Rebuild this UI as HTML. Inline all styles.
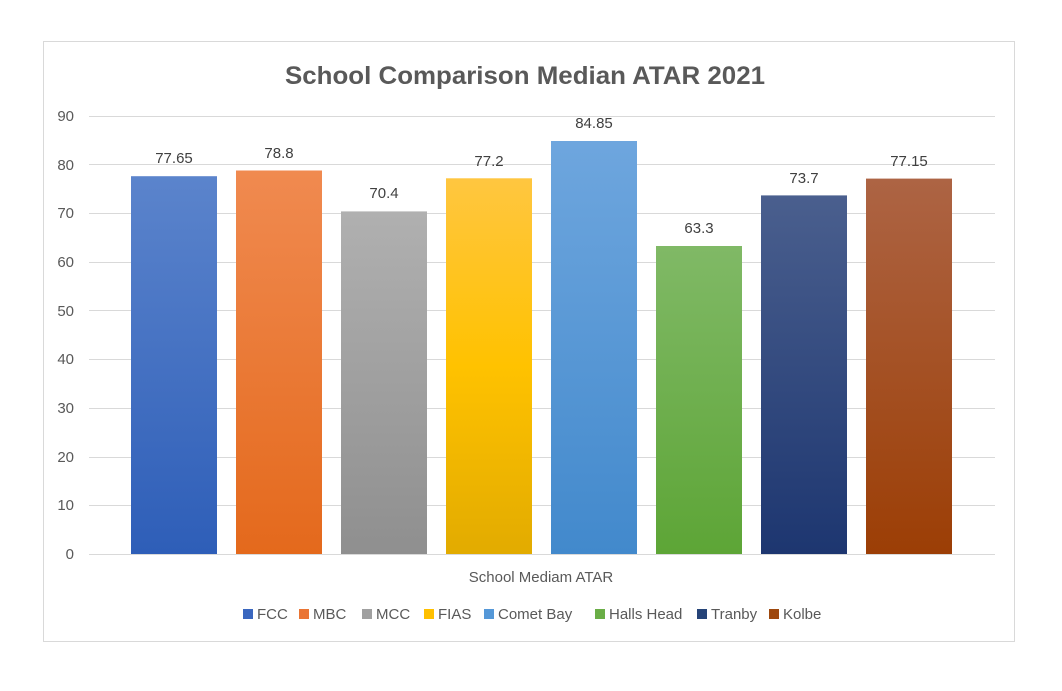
<!DOCTYPE html>
<html><head><meta charset="utf-8"><style>body{margin:0;background:#fff}svg{display:block}text{font-family:"Liberation Sans",sans-serif}</style></head><body>
<svg width="1062" height="691" viewBox="0 0 1062 691" xmlns="http://www.w3.org/2000/svg">
<defs>
<linearGradient id="g0" x1="0" y1="0" x2="0" y2="1"><stop offset="0" stop-color="#5b84cc"/><stop offset="1" stop-color="#2e5eb8"/></linearGradient>
<linearGradient id="g1" x1="0" y1="0" x2="0" y2="1"><stop offset="0" stop-color="#f08a50"/><stop offset="1" stop-color="#e4691c"/></linearGradient>
<linearGradient id="g2" x1="0" y1="0" x2="0" y2="1"><stop offset="0" stop-color="#b0b0b0"/><stop offset="1" stop-color="#8f8f8f"/></linearGradient>
<linearGradient id="g3" x1="0" y1="0" x2="0" y2="1"><stop offset="0" stop-color="#ffc640"/><stop offset="0.5" stop-color="#ffc200"/><stop offset="1" stop-color="#e2ab00"/></linearGradient>
<linearGradient id="g4" x1="0" y1="0" x2="0" y2="1"><stop offset="0" stop-color="#6ea6de"/><stop offset="1" stop-color="#4289cc"/></linearGradient>
<linearGradient id="g5" x1="0" y1="0" x2="0" y2="1"><stop offset="0" stop-color="#80b966"/><stop offset="1" stop-color="#5da536"/></linearGradient>
<linearGradient id="g6" x1="0" y1="0" x2="0" y2="1"><stop offset="0" stop-color="#4a5f8e"/><stop offset="1" stop-color="#1d3670"/></linearGradient>
<linearGradient id="g7" x1="0" y1="0" x2="0" y2="1"><stop offset="0" stop-color="#ad6444"/><stop offset="1" stop-color="#9c3e05"/></linearGradient>
</defs>
<rect x="43.5" y="41.5" width="971" height="600" fill="#fff" stroke="#d9d9d9"/>
<text x="285" y="84" textLength="480" lengthAdjust="spacingAndGlyphs" font-size="25" font-weight="bold" fill="#595959">School Comparison Median ATAR 2021</text>
<g stroke="#d9d9d9" stroke-width="1">
<line x1="89" x2="995" y1="116.5" y2="116.5"/><line x1="89" x2="995" y1="164.5" y2="164.5"/><line x1="89" x2="995" y1="213.5" y2="213.5"/><line x1="89" x2="995" y1="262.5" y2="262.5"/><line x1="89" x2="995" y1="310.5" y2="310.5"/><line x1="89" x2="995" y1="359.5" y2="359.5"/><line x1="89" x2="995" y1="408.5" y2="408.5"/><line x1="89" x2="995" y1="457.5" y2="457.5"/><line x1="89" x2="995" y1="505.5" y2="505.5"/>
</g>
<g font-size="15" fill="#595959" text-anchor="end">
<text x="74" y="121">90</text><text x="74" y="170">80</text><text x="74" y="218">70</text><text x="74" y="267">60</text><text x="74" y="316">50</text><text x="74" y="364">40</text><text x="74" y="413">30</text><text x="74" y="462">20</text><text x="74" y="510">10</text><text x="74" y="559">0</text>
</g>
<g>
<rect x="131" y="176.2" width="86" height="378.1" fill="url(#g0)"/>
<rect x="236" y="170.5" width="86" height="383.8" fill="url(#g1)"/>
<rect x="341" y="211.4" width="86" height="342.9" fill="url(#g2)"/>
<rect x="446" y="178.3" width="86" height="376" fill="url(#g3)"/>
<rect x="551" y="141" width="86" height="413.3" fill="url(#g4)"/>
<rect x="656" y="246" width="86" height="308.3" fill="url(#g5)"/>
<rect x="761" y="195.4" width="86" height="358.9" fill="url(#g6)"/>
<rect x="866" y="178.6" width="86" height="375.7" fill="url(#g7)"/>
</g>
<line x1="89" x2="995" y1="554.5" y2="554.5" stroke="#d9d9d9"/>
<g font-size="15" fill="#404040" text-anchor="middle">
<text x="174" y="163">77.65</text><text x="279" y="158">78.8</text><text x="384" y="198">70.4</text><text x="489" y="166">77.2</text><text x="594" y="128">84.85</text><text x="699" y="233">63.3</text><text x="804" y="183">73.7</text><text x="909" y="166">77.15</text>
</g>
<text x="541" y="582" text-anchor="middle" font-size="15" fill="#595959">School Mediam ATAR</text>
<g font-size="15" fill="#595959">
<rect x="243" y="609" width="10" height="10" fill="#3a67bf"/><text x="257" y="619">FCC</text>
<rect x="299" y="609" width="10" height="10" fill="#ea7534"/><text x="313" y="619">MBC</text>
<rect x="362" y="609" width="10" height="10" fill="#a0a0a0"/><text x="376" y="619">MCC</text>
<rect x="424" y="609" width="10" height="10" fill="#ffc000"/><text x="438" y="619">FIAS</text>
<rect x="484" y="609" width="10" height="10" fill="#5598d8"/><text x="498" y="619">Comet Bay</text>
<rect x="595" y="609" width="10" height="10" fill="#6aae47"/><text x="609" y="619">Halls Head</text>
<rect x="697" y="609" width="10" height="10" fill="#264478"/><text x="711" y="619">Tranby</text>
<rect x="769" y="609" width="10" height="10" fill="#9e480e"/><text x="783" y="619">Kolbe</text>
</g>
</svg>
</body></html>
